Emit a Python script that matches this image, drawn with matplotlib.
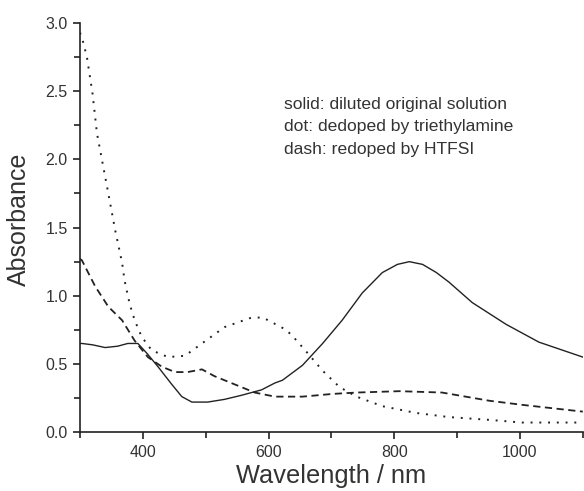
import matplotlib
matplotlib.use('Agg')
import matplotlib.pyplot as plt
from matplotlib.ticker import MultipleLocator, FormatStrFormatter

plt.rcParams['font.family'] = ['Liberation Sans', 'DejaVu Sans']

# solid: diluted original solution
wl_solid = [300, 303, 320, 340, 360, 376, 392, 406, 424, 446, 462, 478, 503, 530, 557, 589,
            610, 622, 654, 686, 717, 749, 781, 805, 824, 845, 867, 887, 924, 978, 1030, 1100]
abs_solid = [0.65, 0.65, 0.64, 0.62, 0.63, 0.65, 0.65, 0.58, 0.48, 0.35, 0.26, 0.22, 0.22, 0.24, 0.27, 0.31,
             0.36, 0.38, 0.49, 0.65, 0.82, 1.02, 1.17, 1.23, 1.25, 1.23, 1.17, 1.10, 0.95, 0.79, 0.66, 0.55]

# dot: dedoped by triethylamine
wl_dot = [300, 305, 311, 320, 327, 343, 356, 367, 371, 379, 387, 398, 414, 440, 467, 494,
          530, 573, 591, 628, 641, 662, 686, 713, 740, 781, 835, 887, 950, 1003, 1100]
abs_dot = [2.93, 2.86, 2.75, 2.48, 2.19, 1.80, 1.48, 1.24, 1.11, 0.94, 0.82, 0.70, 0.60, 0.55, 0.56, 0.65,
           0.77, 0.84, 0.84, 0.75, 0.69, 0.58, 0.45, 0.33, 0.26, 0.19, 0.14, 0.11, 0.09, 0.07, 0.07]

# dash: redoped by HTFSI
wl_dash = [300, 303, 324, 345, 367, 387, 408, 430, 451, 471, 494, 514, 546, 578, 610, 654,
           702, 740, 808, 876, 951, 1003, 1100]
abs_dash = [1.27, 1.26, 1.07, 0.92, 0.82, 0.67, 0.55, 0.48, 0.44, 0.44, 0.46, 0.41, 0.35, 0.29, 0.26, 0.26,
            0.28, 0.29, 0.30, 0.29, 0.23, 0.20, 0.15]

fig = plt.figure(figsize=(5.84, 4.91), dpi=100)
ax = fig.add_axes([0.137, 0.12, 0.861, 0.833])

ax.plot(wl_solid, abs_solid, color='#222222', lw=1.0, ls='-')
ax.plot(wl_dot, abs_dot, color='#222222', lw=1.4, ls=(0, (1, 3.5)))
ax.plot(wl_dash, abs_dash, color='#222222', lw=1.3, ls=(0, (4, 2.5)))

ax.set_xlim(300, 1100)
ax.set_ylim(0, 3.0)
ax.xaxis.set_major_locator(MultipleLocator(200))
ax.xaxis.set_minor_locator(MultipleLocator(100))
ax.yaxis.set_major_locator(MultipleLocator(0.5))
ax.yaxis.set_minor_locator(MultipleLocator(0.25))
ax.yaxis.set_major_formatter(FormatStrFormatter('%.1f'))

for s in ('top', 'right'):
    ax.spines[s].set_visible(False)
for s in ('left', 'bottom'):
    ax.spines[s].set_color('#222222')
    ax.spines[s].set_linewidth(1.2)
ax.tick_params(which='major', direction='out', length=5, width=1.2, colors='#222222',
               labelsize=11.5, labelcolor='#333333', pad=4)
ax.tick_params(which='minor', direction='out', length=4, width=1.2, colors='#222222')

ax.set_xlabel('Wavelength / nm', fontsize=18.3, color='#333333', labelpad=3)
ax.set_ylabel('Absorbance', fontsize=18, color='#333333')
ax.yaxis.set_label_coords(-0.097, 0.52)

ax.text(625, 2.24, 'solid: diluted original solution\ndot: dedoped by triethylamine\ndash: redoped by HTFSI',
        fontsize=12.6, color='#333333', va='center', ha='left', linespacing=1.62)

fig.savefig('out.png', dpi=100)
